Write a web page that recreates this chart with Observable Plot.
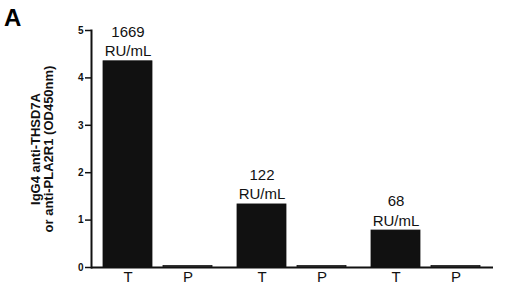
<!DOCTYPE html>
<html>
<head>
<meta charset="utf-8">
<script src="https://cdn.jsdelivr.net/npm/d3@7"></script>
<script src="https://cdn.jsdelivr.net/npm/@observablehq/plot@0.6"></script>
<style>
  body { margin: 0; background: #fff; }
  #wrap { position: relative; width: 506px; height: 289px; font-family: "Liberation Sans", Arial, sans-serif; }
  #panel { position: absolute; left: 4px; top: 4px; font-size: 24px; font-weight: bold; color: #000; }
</style>
</head>
<body>
<div id="wrap">
  <div id="chart"></div>
  <div id="panel">A</div>
</div>
<script>
const groups = [1, 2, 3];
const kinds = ["T", "P"];
const thsd7a = [4.35, 1.33, 0.78];
const pla2r1 = [0.03, 0.03, 0.03];
const ruLabels = ["1669", "122", "68"];
const yTicks = [0, 1, 2, 3, 4, 5];
const yLabel = "IgG4 anti-THSD7A\nor anti-PLA2R1 (OD450nm)";

const rows = [];
groups.forEach((g, i) => {
  rows.push({group: g, kind: "T", value: thsd7a[i], label: ruLabels[i] + "\nRU/mL"});
  rows.push({group: g, kind: "P", value: pla2r1[i], label: ""});
});

const chart = Plot.plot({
  width: 506,
  height: 289,
  marginTop: 30,
  marginBottom: 22,
  marginLeft: 90,
  marginRight: 12,
  style: {fontFamily: "Liberation Sans, Arial, sans-serif", color: "#111", background: "#fff"},
  fx: {domain: groups, padding: 0, axis: null},
  x: {domain: kinds, paddingInner: 0.18, paddingOuter: 0.19},
  y: {domain: [0, 5]},
  marks: [
    Plot.barY(rows, {fx: "group", x: "kind", y: "value",
      fill: d => d.kind === "T" ? "#111" : "#555", stroke: "#111", strokeWidth: 0.8}),
    Plot.text(rows.filter(d => d.kind === "T"), {fx: "group", x: "kind", y: "value", text: "label",
      lineAnchor: "bottom", dy: -5, fontSize: 15, lineHeight: 1.27, fill: "#111"}),
    Plot.ruleY([0], {stroke: "#111", strokeWidth: 2}),
    Plot.frame({anchor: "left", facetAnchor: "left", stroke: "#111", strokeWidth: 2}),
    Plot.axisY({ticks: yTicks, tickFormat: "d", tickSize: 6, tickPadding: 2, fontSize: 10, fontWeight: "bold",
      strokeWidth: 1.5, label: null}),
    Plot.axisY({ticks: [], label: yLabel, labelArrow: "none", labelAnchor: "center", labelOffset: 61,
      fontSize: 13, fontWeight: "bold"}),
    Plot.axisX({tickSize: 0, tickPadding: 4, fontSize: 15, label: null})
  ]
});
document.getElementById("chart").appendChild(chart);
</script>
</body>
</html>
